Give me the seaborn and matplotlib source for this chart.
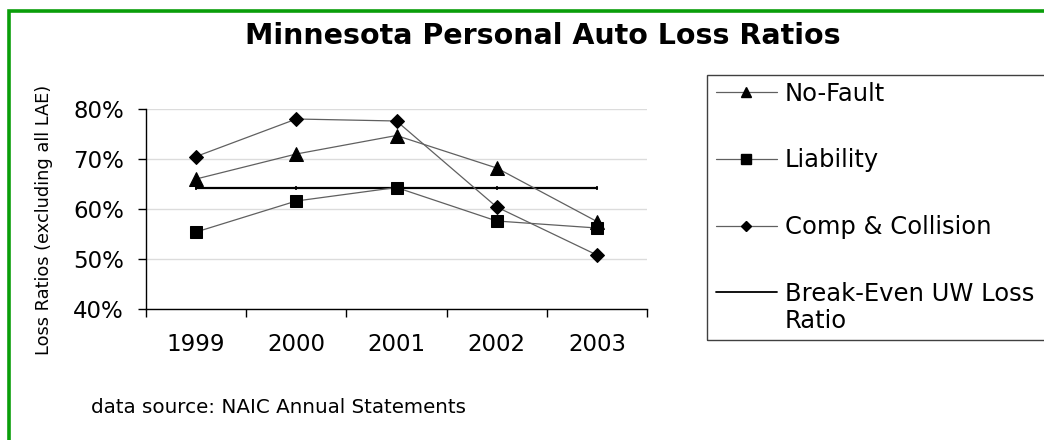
import numpy as np
import pandas as pd
import matplotlib
matplotlib.use("Agg")
import matplotlib.pyplot as plt
from matplotlib.lines import Line2D
from matplotlib.patches import Rectangle
import seaborn as sns

years = ["1999", "2000", "2001", "2002", "2003"]
no_fault = [0.660, 0.710, 0.747, 0.682, 0.575]
liability = [0.554, 0.616, 0.643, 0.576, 0.562]
comp_collision = [0.705, 0.780, 0.776, 0.604, 0.508]
break_even = [0.642, 0.642, 0.642, 0.642, 0.642]
y_ticks = [0.4, 0.5, 0.6, 0.7, 0.8]

sns.set_theme(style="white")
plt.rcParams["font.family"] = ["DejaVu Sans"]
plt.rcParams["text.color"] = "black"
plt.rcParams["axes.labelcolor"] = "black"
plt.rcParams["xtick.color"] = "black"
plt.rcParams["ytick.color"] = "black"

W, H = 1044, 440
fig = plt.figure(figsize=(W / 100, H / 100), dpi=100)
ax = fig.add_axes([146 / W, 1 - 309 / H, (647 - 146) / W, 200 / H])

x = np.arange(len(years))
line_col = "#606060"
series = [
    ("No-Fault", no_fault, "^", 9.5),
    ("Liability", liability, "s", 8.5),
    ("Comp & Collision", comp_collision, "D", 7),
]
handles = []
for name, vals, mk, ms in series:
    df = pd.DataFrame({"x": x, "y": vals})
    sns.lineplot(data=df, x="x", y="y", ax=ax, color=line_col, linewidth=0.9,
                 marker=mk, markersize=ms, markerfacecolor="black",
                 markeredgecolor="black", zorder=3)
    handles.append(Line2D([], [], color=line_col, linewidth=0.9, marker=mk,
                          markersize=ms * 0.8, markerfacecolor="black",
                          markeredgecolor="black"))

df_be = pd.DataFrame({"x": x, "y": break_even})
sns.lineplot(data=df_be, x="x", y="y", ax=ax, color="black", linewidth=1.6,
             marker="|", markersize=3.5, markeredgewidth=1.2,
             markeredgecolor="black", zorder=2)
handles.append(Line2D([], [], color="black", linewidth=1.3))

ax.set_xlim(-0.5, len(years) - 0.5)
ax.set_ylim(0.4, 0.8)
ax.set_yticks(y_ticks)
ax.set_yticklabels([f"{int(round(v * 100))}%" for v in y_ticks], fontsize=16.5)
ax.set_xticks(x)
ax.set_xticklabels(years, fontsize=16.5)
ax.set_xticks(np.arange(-0.5, len(years)), minor=True)
ax.tick_params(axis="x", which="major", length=0, pad=17)
ax.tick_params(axis="x", which="minor", length=6, width=1, color="black", direction="out", bottom=True)
ax.tick_params(axis="y", length=6, width=1, color="black", direction="out", left=True, pad=10)
ax.grid(axis="y", color="#dcdcdc", linewidth=1)
ax.set_axisbelow(True)
for side in ["top", "right"]:
    ax.spines[side].set_visible(False)
for side in ["left", "bottom"]:
    ax.spines[side].set_color("black")
    ax.spines[side].set_linewidth(1)
ax.set_xlabel("")
ax.set_ylabel("Loss Ratios (excluding all LAE)", fontsize=12.8)
ax.yaxis.set_label_coords(44 / W, 0.5, transform=fig.transFigure)
ax.yaxis.label.set_verticalalignment("center")

fig.text(543 / W, 1 - 36 / H, "Minnesota Personal Auto Loss Ratios",
         ha="center", va="center", fontsize=20.5, fontweight="bold")
fig.text(91 / W, 1 - 407 / H, "data source: NAIC Annual Statements",
         ha="left", va="center", fontsize=14.3)

# legend frame runs off the right edge like the original
fig.patches.append(Rectangle((707 / W, 1 - 340 / H), 1.0, 265 / H, transform=fig.transFigure,
                             fill=False, edgecolor="#404040", linewidth=1, figure=fig))
labels = ["No-Fault", "Liability", "Comp & Collision", "Break-Even UW Loss"]
leg = ax.legend(handles, labels, loc="upper left",
                bbox_to_anchor=(716 / W, 1 - 81.5 / H), bbox_transform=fig.transFigure,
                frameon=False, fontsize=17.5, handlelength=2.5,
                handletextpad=0.33, labelspacing=1.76, borderpad=0, borderaxespad=0)

fig.canvas.draw()
x_text = leg.get_texts()[3].get_window_extent().x0 / W
fig.text(x_text, 1 - 321 / H, "Ratio", ha="left", va="center", fontsize=17.5)

# green frame: only top and left edges fall inside the picture
fig.patches.append(Rectangle((9 / W, -0.2), 1.2, 1.2 - 11 / H, transform=fig.transFigure,
                             fill=False, edgecolor="#0a9e0a", linewidth=2.6, figure=fig))

fig.savefig("out.png", dpi=100)
